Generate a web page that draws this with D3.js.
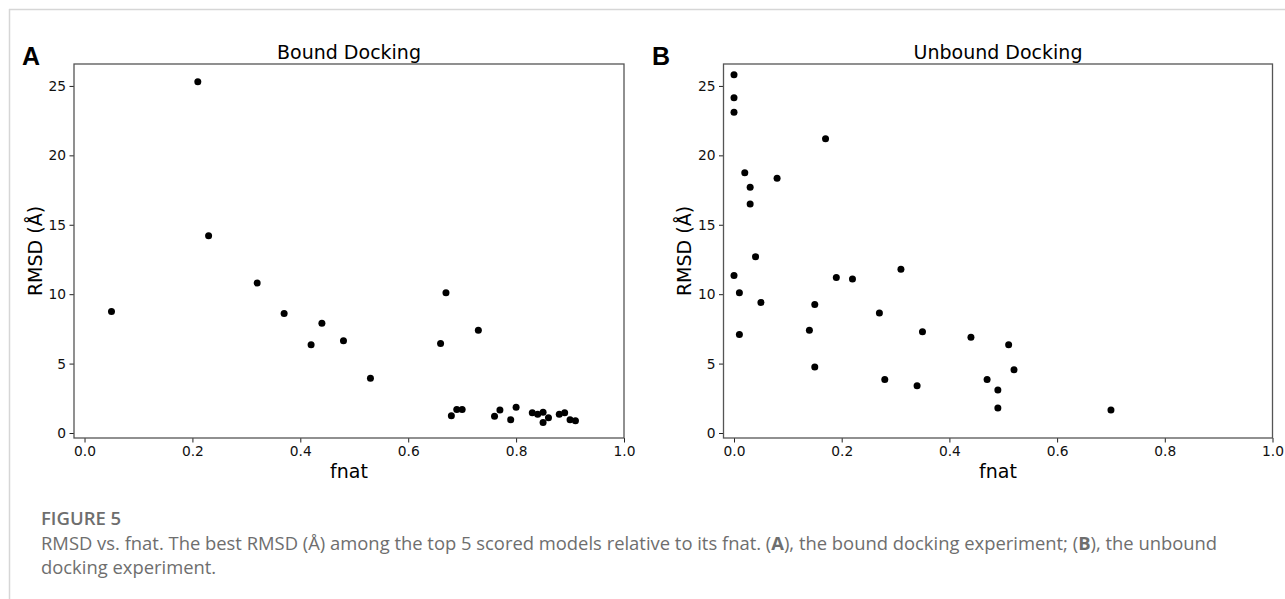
<!DOCTYPE html>
<html>
<head>
<meta charset="utf-8">
<script src="https://cdn.jsdelivr.net/npm/d3@7"></script>
<style>
  body { margin: 0; background: #fff; }
  svg { display: block; }
  .tick text { font-family: "DejaVu Sans", sans-serif; font-size: 13.8px; fill: #111; }
  .tick line { stroke: #222; }
  .domain { display: none; }
  .caption { font-family: "Open Sans", "Noto Sans", sans-serif; fill: #6e6e6e; }
</style>
</head>
<body>
<svg id="chart" width="1285" height="599"></svg>
<script>
// bound docking: fnat vs best RMSD
const boundFnat = [0.05, 0.21, 0.23, 0.32, 0.37, 0.42, 0.44, 0.48, 0.53, 0.66, 0.67, 0.68, 0.69, 0.70, 0.73,
                   0.76, 0.77, 0.79, 0.80, 0.83, 0.84, 0.85, 0.85, 0.86, 0.88, 0.89, 0.90, 0.91];
const boundRmsd = [8.75, 25.3, 14.2, 10.8, 8.6, 6.35, 7.9, 6.65, 3.95, 6.45, 10.1, 1.25, 1.7, 1.7, 7.4,
                   1.2, 1.65, 0.95, 1.85, 1.45, 1.35, 1.5, 0.75, 1.1, 1.35, 1.45, 0.95, 0.88];

// unbound docking
const unboundFnat = [0.0, 0.0, 0.0, 0.17, 0.02, 0.08, 0.03, 0.03, 0.04, 0.31, 0.0, 0.19, 0.22, 0.01, 0.05,
                     0.15, 0.27, 0.14, 0.01, 0.35, 0.44, 0.51, 0.15, 0.52, 0.28, 0.47, 0.34, 0.49, 0.49, 0.70];
const unboundRmsd = [25.8, 24.15, 23.1, 21.2, 18.75, 18.35, 17.7, 16.5, 12.7, 11.8, 11.35, 11.2, 11.1, 10.1, 9.4,
                     9.25, 8.65, 7.4, 7.1, 7.3, 6.9, 6.35, 4.75, 4.55, 3.85, 3.85, 3.4, 3.1, 1.8, 1.65];

const xTicks = [0, 0.2, 0.4, 0.6, 0.8, 1.0];
const yTicks = [0, 5, 10, 15, 20, 25];
const titles = ['Bound Docking', 'Unbound Docking'];
const letters = ['A', 'B'];

const svg = d3.select('#chart');

// thin frame lines of the figure page
svg.append('line').attr('x1', 9).attr('x2', 1285).attr('y1', 9.5).attr('y2', 9.5)
    .attr('stroke', '#d6d6d6').attr('stroke-width', 1.5);
svg.append('line').attr('x1', 9.5).attr('x2', 9.5).attr('y1', 9).attr('y2', 599)
    .attr('stroke', '#d6d6d6').attr('stroke-width', 1.5);

const panels = [
    { x: boundFnat, y: boundRmsd, left: 74, right: 624, lx: 22, labX: 42 },
    { x: unboundFnat, y: unboundRmsd, left: 723.5, right: 1272.5, lx: 652, labX: 691 }
];
const plotTop = 64, plotBottom = 438;

panels.forEach((p, i) => {
    const x = d3.scaleLinear().domain([-0.0195, 1.0]).range([p.left, p.right]);
    const y = d3.scaleLinear().domain([-0.36, 26.58]).range([plotBottom, plotTop]);
    const g = svg.append('g');

    g.append('g').attr('transform', `translate(0,${plotBottom})`)
        .call(d3.axisBottom(x).tickValues(xTicks).tickFormat(d3.format('.1f')).tickSize(4.5).tickPadding(3.5));
    g.append('g').attr('transform', `translate(${p.left},0)`)
        .call(d3.axisLeft(y).tickValues(yTicks).tickFormat(d3.format('d')).tickSize(4.5).tickPadding(3.5));

    g.append('rect')
        .attr('x', p.left).attr('y', plotTop)
        .attr('width', p.right - p.left).attr('height', plotBottom - plotTop)
        .attr('fill', 'none').attr('stroke', '#555').attr('stroke-width', 1.3);

    g.selectAll('circle').data(p.x.map((v, k) => [v, p.y[k]])).enter()
        .append('circle')
        .attr('cx', d => x(d[0])).attr('cy', d => y(d[1]))
        .attr('r', 3.5).attr('fill', '#000');

    g.append('text')
        .attr('x', (p.left + p.right) / 2).attr('y', 59)
        .attr('text-anchor', 'middle')
        .style('font-family', 'DejaVu Sans, sans-serif').style('font-size', '19px')
        .text(titles[i]);

    g.append('text')
        .attr('x', (p.left + p.right) / 2).attr('y', 478)
        .attr('text-anchor', 'middle')
        .style('font-family', 'DejaVu Sans, sans-serif').style('font-size', '19px')
        .text('fnat');

    g.append('text')
        .attr('transform', `translate(${p.labX},${(plotTop + plotBottom) / 2}) rotate(-90)`)
        .attr('text-anchor', 'middle')
        .style('font-family', 'DejaVu Sans, sans-serif').style('font-size', '19px')
        .text('RMSD (Å)');

    g.append('text')
        .attr('x', p.lx).attr('y', 65)
        .style('font-family', 'Liberation Sans, Arial, sans-serif').style('font-size', '25px')
        .style('font-weight', 'bold')
        .text(letters[i]);
});

// caption
svg.append('text').attr('class', 'caption')
    .attr('x', 41).attr('y', 525)
    .style('font-size', '18.5px').style('font-weight', '600')
    .text('FIGURE 5');

const cap1 = svg.append('text').attr('class', 'caption')
    .attr('x', 41).attr('y', 550).style('font-size', '18.4px');
cap1.append('tspan').text('RMSD vs. fnat. The best RMSD (Å) among the top 5 scored models relative to its fnat. (');
cap1.append('tspan').style('font-weight', 'bold').text('A');
cap1.append('tspan').text('), the bound docking experiment; (');
cap1.append('tspan').style('font-weight', 'bold').text('B');
cap1.append('tspan').text('), the unbound');

svg.append('text').attr('class', 'caption')
    .attr('x', 41).attr('y', 574).style('font-size', '18.4px')
    .text('docking experiment.');
</script>
</body>
</html>
